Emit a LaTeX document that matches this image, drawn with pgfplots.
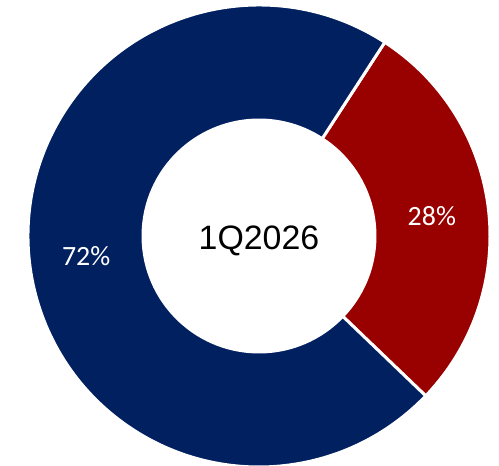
\documentclass[border=0pt]{standalone}
\usepackage{pgfplots}
\usepackage{pgfplotstable}
\pgfplotsset{compat=1.18}
\usepackage{fontspec}
\setmainfont{Carlito}
\newfontfamily\arialfont{Liberation Sans}
\usetikzlibrary{calc}
\definecolor{navy}{HTML}{002060}
\definecolor{darkred}{HTML}{990000}
\pgfplotstableread{
label value
A 28
B 72
}\datatable
\begin{document}
\begin{tikzpicture}
\pgfplotstablegetelem{0}{value}\of\datatable \let\vA\pgfplotsretval
\pgfplotstablegetelem{1}{value}\of\datatable \let\vB\pgfplotsretval
\pgfmathsetmacro{\start}{57}
\pgfmathsetmacro{\endA}{\start-\vA*3.6}
\pgfmathsetmacro{\endB}{\start+\vB*3.6}
\pgfmathsetmacro{\midA}{(\start+\endA)/2}
\pgfmathsetmacro{\midB}{(\start+\endB)/2}
\def\Ro{231bp}\def\Ri{116bp}\def\Rm{174bp}
\begin{axis}[x=1bp,y=1bp,xmin=0,xmax=499,ymin=0,ymax=466,hide axis,clip=false]
\coordinate (c) at (axis cs:259,230);
\filldraw[fill=darkred,draw=white,line width=3bp]
  ($(c)+(\start:\Ro)$) arc[start angle=\start,end angle=\endA,radius=\Ro]
  -- ($(c)+(\endA:\Ri)$) arc[start angle=\endA,end angle=\start,radius=\Ri] -- cycle;
\filldraw[fill=navy,draw=white,line width=3bp]
  ($(c)+(\start:\Ro)$) arc[start angle=\start,end angle=\endB,radius=\Ro]
  -- ($(c)+(\endB:\Ri)$) arc[start angle=\endB,end angle=\start,radius=\Ri] -- cycle;
\node[white,font=\fontsize{28}{32}\selectfont] at ($(c)+(\midA:\Rm)$) {\vA\%};
\node[white,font=\fontsize{28}{32}\selectfont] at ($(c)+(\midB:\Rm)$) {\vB\%};
\node[black,font=\arialfont\fontsize{34}{40}\selectfont] at ($(c)+(0,-5bp)$) {1Q2026};
\end{axis}
\pgfresetboundingbox
\path (0,0) rectangle (499bp,466bp);
\end{tikzpicture}
\end{document}
